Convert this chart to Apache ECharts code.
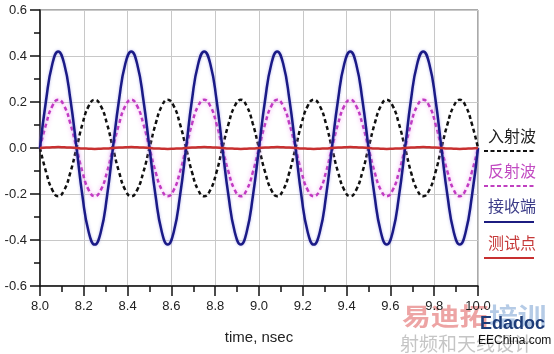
<!DOCTYPE html>
<html>
<head>
<meta charset="utf-8">
<script src="https://cdn.jsdelivr.net/npm/echarts@6/dist/echarts.min.js"></script>
<style>html,body{margin:0;padding:0;background:#fff;}#c{width:554px;height:354px;}</style>
</head>
<body>
<div id="c"></div>
<script>
// time samples, nsec
const times = [
 8.000, 8.028, 8.056, 8.083, 8.111, 8.139, 8.167, 8.194, 8.222, 8.250, 8.278, 8.306,
 8.333, 8.361, 8.389, 8.417, 8.444, 8.472, 8.500, 8.528, 8.556, 8.583, 8.611, 8.639,
 8.667, 8.694, 8.722, 8.750, 8.778, 8.806, 8.833, 8.861, 8.889, 8.917, 8.944, 8.972,
 9.000, 9.028, 9.056, 9.083, 9.111, 9.139, 9.167, 9.194, 9.222, 9.250, 9.278, 9.306,
 9.333, 9.361, 9.389, 9.417, 9.444, 9.472, 9.500, 9.528, 9.556, 9.583, 9.611, 9.639,
 9.667, 9.694, 9.722, 9.750, 9.778, 9.806, 9.833, 9.861, 9.889, 9.917, 9.944, 9.972,
 10.000
];
// 入射波 (incident)
const incident = [
 0, -0.105, -0.182, -0.21, -0.182, -0.105, 0, 0.105, 0.182, 0.21, 0.182, 0.105,
 0, -0.105, -0.182, -0.21, -0.182, -0.105, 0, 0.105, 0.182, 0.21, 0.182, 0.105,
 0, -0.105, -0.182, -0.21, -0.182, -0.105, 0, 0.105, 0.182, 0.21, 0.182, 0.105,
 0, -0.105, -0.182, -0.21, -0.182, -0.105, 0, 0.105, 0.182, 0.21, 0.182, 0.105,
 0, -0.105, -0.182, -0.21, -0.182, -0.105, 0, 0.105, 0.182, 0.21, 0.182, 0.105,
 0, -0.105, -0.182, -0.21, -0.182, -0.105, 0, 0.105, 0.182, 0.21, 0.182, 0.105,
 0
];
// 反射波 (reflected)
const reflected = [
 0, 0.105, 0.182, 0.21, 0.182, 0.105, 0, -0.105, -0.182, -0.21, -0.182, -0.105,
 0, 0.105, 0.182, 0.21, 0.182, 0.105, 0, -0.105, -0.182, -0.21, -0.182, -0.105,
 0, 0.105, 0.182, 0.21, 0.182, 0.105, 0, -0.105, -0.182, -0.21, -0.182, -0.105,
 0, 0.105, 0.182, 0.21, 0.182, 0.105, 0, -0.105, -0.182, -0.21, -0.182, -0.105,
 0, 0.105, 0.182, 0.21, 0.182, 0.105, 0, -0.105, -0.182, -0.21, -0.182, -0.105,
 0, 0.105, 0.182, 0.21, 0.182, 0.105, 0, -0.105, -0.182, -0.21, -0.182, -0.105,
 0
];
// 接收端 (receiver end)
const received = [
 0, 0.21, 0.364, 0.42, 0.364, 0.21, 0, -0.21, -0.364, -0.42, -0.364, -0.21,
 0, 0.21, 0.364, 0.42, 0.364, 0.21, 0, -0.21, -0.364, -0.42, -0.364, -0.21,
 0, 0.21, 0.364, 0.42, 0.364, 0.21, 0, -0.21, -0.364, -0.42, -0.364, -0.21,
 0, 0.21, 0.364, 0.42, 0.364, 0.21, 0, -0.21, -0.364, -0.42, -0.364, -0.21,
 0, 0.21, 0.364, 0.42, 0.364, 0.21, 0, -0.21, -0.364, -0.42, -0.364, -0.21,
 0, 0.21, 0.364, 0.42, 0.364, 0.21, 0, -0.21, -0.364, -0.42, -0.364, -0.21,
 0
];
// 测试点 (test point)
const testPoint = [
 0, 0.002, 0.003, 0.004, 0.003, 0.002, 0, -0.002, -0.003, -0.004, -0.003, -0.002,
 0, 0.002, 0.003, 0.004, 0.003, 0.002, 0, -0.002, -0.003, -0.004, -0.003, -0.002,
 0, 0.002, 0.003, 0.004, 0.003, 0.002, 0, -0.002, -0.003, -0.004, -0.003, -0.002,
 0, 0.002, 0.003, 0.004, 0.003, 0.002, 0, -0.002, -0.003, -0.004, -0.003, -0.002,
 0, 0.002, 0.003, 0.004, 0.003, 0.002, 0, -0.002, -0.003, -0.004, -0.003, -0.002,
 0, 0.002, 0.003, 0.004, 0.003, 0.002, 0, -0.002, -0.003, -0.004, -0.003, -0.002,
 0
];
const seriesNames = ['入射波', '反射波', '接收端', '测试点'];
const xName = 'time, nsec';

const pairs = arr => times.map((t, i) => [t, arr[i]]);
const font = 'Liberation Sans, Arial, sans-serif';
const cjk = 'Noto Sans CJK SC, sans-serif';

const axisCommon = {
  axisLine: { show: true, onZero: false, lineStyle: { color: '#111', width: 1.5 } },
  axisTick: { show: true, length: 10, lineStyle: { color: '#111', width: 1.5 } },
  minorTick: { show: true, splitNumber: 2, length: 6, lineStyle: { color: '#111', width: 1.5 } },
  splitLine: { show: true, lineStyle: { color: '#c8c8c8', width: 1 } },
  axisLabel: { color: '#222', fontSize: 13, fontFamily: font, formatter: v => v.toFixed(1) }
};

const legendItems = [
  { name: seriesNames[0], textColor: '#222222', lineColor: '#111111', dash: [4, 2.5], ty: 137, ly: 151 },
  { name: seriesNames[1], textColor: '#c24cc2', lineColor: '#c040c0', dash: [4, 2.5], ty: 172, ly: 186 },
  { name: seriesNames[2], textColor: '#3c3c88', lineColor: '#1c1c80', dash: null, ty: 207, ly: 222 },
  { name: seriesNames[3], textColor: '#c63a3a', lineColor: '#c83030', dash: null, ty: 244, ly: 258 }
];
const graphics = [];
legendItems.forEach(it => {
  graphics.push({
    type: 'text', left: 488, top: it.ty - 9,
    style: { text: it.name, fill: it.textColor, font: '16px ' + cjk }
  });
  graphics.push({
    type: 'line', shape: { x1: 484, y1: it.ly, x2: 534, y2: it.ly },
    style: { stroke: it.lineColor, lineWidth: 2, lineDash: it.dash }
  });
});
// watermark
graphics.push({ type: 'text', x: 402, y: 304, scaleX: 1.2, style: { text: '易迪拓', fill: 'rgba(222,90,90,0.55)', font: 'bold 24px ' + cjk } });
graphics.push({ type: 'text', x: 489, y: 304, scaleX: 1.2, style: { text: '培训', fill: 'rgba(120,160,210,0.55)', font: 'bold 24px ' + cjk } });
graphics.push({ type: 'text', x: 400, y: 334, style: { text: '射频和天线设计', fill: 'rgba(150,150,150,0.55)', font: '19px ' + cjk } });
graphics.push({ type: 'text', x: 480, y: 315, style: { text: 'Edadoc', fill: '#1d3c78', font: 'bold 18px ' + font } });
graphics.push({ type: 'text', x: 478, y: 335, style: { text: 'EEChina.com', fill: '#111', font: '12px ' + font } });

const chart = echarts.init(document.getElementById('c'), null, { renderer: 'canvas' });
chart.setOption({
  animation: false,
  backgroundColor: '#fff',
  grid: { left: 40, right: 76, top: 10, bottom: 68, show: true, borderColor: '#555', borderWidth: 1, backgroundColor: 'transparent' },
  xAxis: Object.assign({}, axisCommon, {
    type: 'value', min: 8, max: 10, interval: 0.2,
    name: xName, nameLocation: 'middle', nameGap: 44,
    nameTextStyle: { color: '#222', fontSize: 15, fontFamily: font },
    axisLabel: Object.assign({}, axisCommon.axisLabel, { margin: 14 })
  }),
  yAxis: Object.assign({}, axisCommon, {
    type: 'value', min: -0.6, max: 0.6, interval: 0.2,
    axisLabel: Object.assign({}, axisCommon.axisLabel, { margin: 13 })
  }),
  series: [
    { name: seriesNames[0], type: 'line', data: pairs(incident), smooth: 0.5, showSymbol: false,
      lineStyle: { color: '#111', width: 2.5, type: [4, 3] } },
    { name: seriesNames[1], type: 'line', data: pairs(reflected), smooth: 0.5, showSymbol: false,
      lineStyle: { color: '#c23ac2', width: 2.5, type: [4, 3], shadowColor: 'rgba(240,140,240,0.9)', shadowBlur: 4 } },
    { name: seriesNames[2], type: 'line', data: pairs(received), smooth: 0.5, showSymbol: false,
      lineStyle: { color: '#1a1a86', width: 2.5, shadowColor: 'rgba(150,150,230,0.7)', shadowBlur: 3 } },
    { name: seriesNames[3], type: 'line', data: pairs(testPoint), smooth: 0.5, showSymbol: false,
      lineStyle: { color: '#c83030', width: 2.5 } }
  ],
  graphic: graphics
});
</script>
</body>
</html>
